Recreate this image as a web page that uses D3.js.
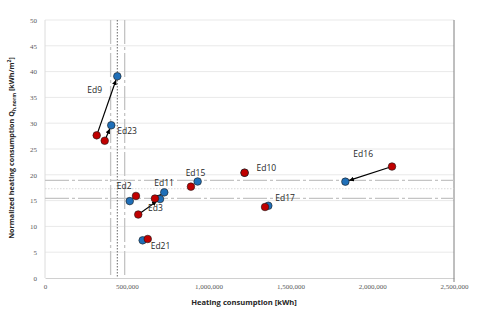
<!DOCTYPE html>
<html>
<head>
<meta charset="utf-8">
<script src="https://cdn.jsdelivr.net/npm/d3@7"></script>
<style>
body { margin: 0; background: #fff; }
svg { display: block; }
</style>
</head>
<body>
<div id="chart"></div>
<script>
// buildings and their two states (red = before, blue = after)
var names   = ["Ed9", "Ed23", "Ed2", "Ed3", "Ed11", "Ed21", "Ed15", "Ed10", "Ed17", "Ed16"];
var redX    = [316000, 365000, 556000, 570000, 672000, 628000, 892000, 1220000, 1345000, 2121000];
var redY    = [27.65, 26.6, 15.9, 12.3, 15.4, 7.56, 17.7, 20.4, 13.76, 21.6];
var blueX   = [442000, 405000, 518000, 703000, 729000, 597000, 933000, 1220000, 1365000, 1836000];
var blueY   = [39.1, 29.6, 14.9, 15.3, 16.6, 7.3, 18.7, 20.4, 14.0, 18.67];
// label offsets from the blue point (px)
var labelDx = [-30, 6, -13, -12, -10, 8, -12, 12, 7, 8];
var labelDy = [17, 9, -12, 12, -6, 9, -6, -2, -5, -25];

var xTicks = [0, 500000, 1000000, 1500000, 2000000, 2500000];
var yTicks = [0, 5, 10, 15, 20, 25, 30, 35, 40, 45, 50];
var xMeanLines = [401000, 442000, 487000];   // lower, mean, upper
var yMeanLines = [15.45, 17.3, 18.93];

var margin = {top: 20, left: 45, right: 26, bottom: 37};
var width = 480, height = 315;

var svg = d3.select("#chart").append("svg")
    .attr("width", width).attr("height", height);

var x = d3.scaleLinear().domain([0, 2500000]).range([margin.left, width - margin.right]);
var y = d3.scaleLinear().domain([0, 50]).range([height - margin.bottom, margin.top]);

var fmt = d3.format(",");

// gridlines
svg.append("g").selectAll("line").data(yTicks.slice(1)).enter().append("line")
    .attr("x1", x(0)).attr("x2", x(2500000))
    .attr("y1", function(d){ return y(d); }).attr("y2", function(d){ return y(d); })
    .attr("stroke", "#e9e9e9").attr("stroke-width", 1);

// axes
var xAxis = d3.axisBottom(x).tickValues(xTicks).tickSize(0).tickPadding(6).tickFormat(fmt);
var yAxis = d3.axisLeft(y).tickValues(yTicks).tickSize(0).tickPadding(8);

var gx = svg.append("g").attr("transform", "translate(0," + y(0) + ")").call(xAxis);
var gy = svg.append("g").attr("transform", "translate(" + x(0) + ",0)").call(yAxis);
[gx, gy].forEach(function(g){
    g.select(".domain").attr("stroke", "#d0d0d0");
    g.selectAll("text").attr("font-family", "Liberation Serif, DejaVu Serif, serif")
        .attr("font-size", 7).attr("fill", "#595959");
});
gy.select(".domain").remove();
svg.append("line").attr("x1", x(0)).attr("x2", x(0)).attr("y1", y(0)).attr("y2", y(50))
    .attr("stroke", "#dcdcdc");
svg.append("line").attr("x1", x(2500000)).attr("x2", x(2500000)).attr("y1", y(50)).attr("y2", y(0) + 4)
    .attr("stroke", "#7f7f7f");

// mean / deviation lines
svg.append("g").selectAll("line").data(xMeanLines).enter().append("line")
    .attr("x1", function(d){ return x(d); }).attr("x2", function(d){ return x(d); })
    .attr("y1", y(50)).attr("y2", y(0))
    .attr("stroke", function(d, i){ return i === 1 ? "#404040" : "#c4c4c4"; })
    .attr("stroke-width", function(d, i){ return i === 1 ? 0.8 : 1.3; })
    .attr("stroke-dasharray", function(d, i){ return i === 1 ? "1.5,1.5" : "24,3,3,3"; });

svg.append("g").selectAll("line").data(yMeanLines).enter().append("line")
    .attr("x1", x(0)).attr("x2", x(2500000))
    .attr("y1", function(d){ return y(d); }).attr("y2", function(d){ return y(d); })
    .attr("stroke", function(d, i){ return i === 1 ? "#d0d0d0" : "#c4c4c4"; })
    .attr("stroke-width", function(d, i){ return i === 1 ? 0.8 : 1.3; })
    .attr("stroke-dasharray", function(d, i){ return i === 1 ? "1.5,1.5" : "24,3,3,3"; });

// arrow marker
svg.append("defs").append("marker")
    .attr("id", "arrow").attr("viewBox", "0 0 10 10")
    .attr("refX", 10).attr("refY", 5)
    .attr("markerWidth", 4).attr("markerHeight", 4)
    .attr("orient", "auto")
    .append("path").attr("d", "M0,0 L10,5 L0,10 z").attr("fill", "#000");

var data = names.map(function(n, i){
    return {name: n, rx: x(redX[i]), ry: y(redY[i]), bx: x(blueX[i]), by: y(blueY[i]), dx: labelDx[i], dy: labelDy[i]};
});

// arrows from red to blue, stopping at the blue circle edge
svg.append("g").selectAll("line").data(data.filter(function(d){
        return Math.hypot(d.bx - d.rx, d.by - d.ry) > 10; })).enter().append("line")
    .attr("x1", function(d){ return d.rx; })
    .attr("y1", function(d){ return d.ry; })
    .attr("x2", function(d){ var L = Math.hypot(d.bx - d.rx, d.by - d.ry); return d.bx - (d.bx - d.rx) / L * 4; })
    .attr("y2", function(d){ var L = Math.hypot(d.bx - d.rx, d.by - d.ry); return d.by - (d.by - d.ry) / L * 4; })
    .attr("stroke", "#000").attr("stroke-width", 1.2)
    .attr("marker-end", "url(#arrow)");

svg.append("g").selectAll("circle").data(data).enter().append("circle")
    .attr("cx", function(d){ return d.bx; }).attr("cy", function(d){ return d.by; })
    .attr("r", 3.8).attr("fill", "#1f6fb8").attr("stroke", "#1a1a1a").attr("stroke-width", 0.6);

svg.append("g").selectAll("circle").data(data).enter().append("circle")
    .attr("cx", function(d){ return d.rx; }).attr("cy", function(d){ return d.ry; })
    .attr("r", 3.8).attr("fill", "#c00000").attr("stroke", "#1a1a1a").attr("stroke-width", 0.6);

// labels
svg.append("g").selectAll("text").data(data).enter().append("text")
    .attr("x", function(d){ return d.bx + d.dx; })
    .attr("y", function(d){ return d.by + d.dy; })
    .attr("font-family", "Open Sans, Liberation Sans, sans-serif")
    .attr("font-size", 8.5).attr("fill", "#262626")
    .text(function(d){ return d.name; });

// axis titles
svg.append("text")
    .attr("x", 244).attr("y", 305)
    .attr("text-anchor", "middle")
    .attr("font-family", "Open Sans, Liberation Sans, sans-serif")
    .attr("font-size", 7.6).attr("font-weight", "bold").attr("fill", "#262626")
    .text("Heating consumption [kWh]");

var yt = svg.append("text")
    .attr("transform", "translate(14,148) rotate(-90)")
    .attr("text-anchor", "middle")
    .attr("font-family", "Open Sans, Liberation Sans, sans-serif")
    .attr("font-size", 7.2).attr("font-weight", "bold").attr("fill", "#262626");
yt.append("tspan").text("Normalized heating consumption Q");
yt.append("tspan").attr("font-size", 5).attr("dy", 2).text("h,norm");
yt.append("tspan").attr("dy", -2).text(" [kWh/m");
yt.append("tspan").attr("font-size", 5).attr("dy", -3).text("2");
yt.append("tspan").attr("dy", 3).text("]");
</script>
</body>
</html>
